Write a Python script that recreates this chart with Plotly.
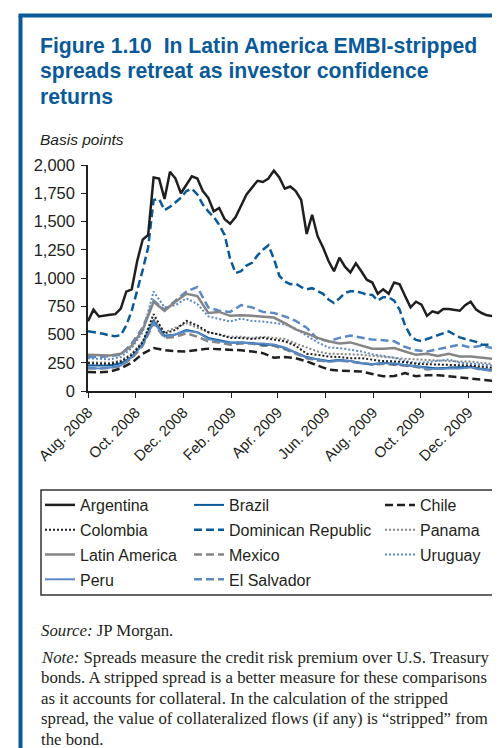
import pandas as pd
import plotly.graph_objects as go


# ==========================================================
# DATA (basis points)
# ==========================================================

dates_weekly = pd.date_range("2008-08-01", periods=76, freq="7D")
dates_biweekly = pd.date_range("2008-08-01", periods=38, freq="14D")

argentina = [
    617, 720, 660, 670, 675, 680, 730, 880, 900, 1150, 1340, 1380, 1890, 1880,
    1700, 1940, 1880, 1750, 1830, 1900, 1880, 1770, 1710, 1590, 1620, 1520,
    1480, 1540, 1640, 1740, 1800, 1860, 1850, 1880, 1950, 1890, 1790, 1810,
    1770, 1690, 1390, 1560, 1370, 1270, 1150, 1060, 1180, 1100, 1050, 1130,
    1060, 985, 960, 860, 900, 860, 960, 945, 840, 740, 790, 765, 665, 705,
    690, 725, 725, 715, 710, 760, 790, 720, 690, 670, 660, 655
]

dominican_republic = [
    528, 520, 515, 505, 490, 484, 495, 580, 710, 880, 1070, 1270, 1690, 1700,
    1600, 1630, 1670, 1710, 1770, 1790, 1740, 1650, 1590, 1540, 1470, 1380,
    1170, 1044, 1060, 1110, 1135, 1200, 1250, 1290, 1170, 1020, 970, 945,
    950, 920, 900, 910, 885, 860, 810, 779, 820, 868, 882, 882, 870, 852,
    850, 800, 830, 830, 800, 720, 580, 490, 452, 442, 460, 478, 495, 515,
    528, 500, 475, 460, 450, 435, 410, 410, 420, 385
]

latin_america = [
    321, 318, 315, 330, 400, 540, 790, 710, 790, 860, 840, 690, 700, 665,
    670, 665, 655, 650, 600, 545, 510, 470, 440, 420, 430, 400, 375, 375,
    380, 350, 320, 330, 310, 330, 305, 305, 295, 285
]

el_salvador = [
    300, 300, 310, 320, 420, 560, 800, 720, 800, 880, 920, 740, 710, 700,
    760, 740, 700, 690, 660, 620, 560, 460, 440, 470, 490, 470, 455, 450,
    440, 390, 360, 350, 370, 385, 410, 385, 400, 380
]

uruguay = [
    290, 285, 280, 300, 380, 520, 880, 740, 760, 820, 770, 660, 640, 615,
    640, 620, 615, 605, 590, 550, 490, 430, 385, 380, 365, 350, 325, 310,
    295, 265, 250, 255, 265, 280, 250, 245, 235, 225
]

panama = [
    255, 250, 250, 270, 330, 440, 640, 520, 560, 600, 560, 520, 500, 480,
    480, 470, 480, 470, 460, 420, 385, 350, 330, 330, 325, 320, 310, 300,
    295, 285, 280, 275, 265, 265, 260, 260, 250, 240
]

colombia = [
    245, 240, 240, 260, 320, 430, 680, 510, 540, 620, 580, 520, 500, 470,
    470, 460, 470, 455, 440, 400, 330, 320, 305, 300, 290, 290, 275, 265,
    262, 255, 240, 238, 235, 232, 232, 225, 215, 205
]

brazil = [
    225, 222, 225, 245, 300, 420, 620, 490, 500, 540, 520, 470, 450, 430,
    430, 425, 410, 410, 380, 340, 300, 280, 265, 275, 265, 245, 235, 250,
    240, 232, 220, 210, 200, 205, 210, 215, 195, 185
]

mexico = [
    200, 198, 205, 220, 290, 400, 600, 470, 480, 510, 480, 440, 430, 410,
    420, 420, 400, 400, 370, 330, 290, 270, 260, 270, 260, 245, 235, 240,
    230, 225, 215, 190, 200, 205, 205, 210, 190, 180
]

peru = [
    205, 200, 205, 225, 300, 410, 610, 480, 500, 530, 520, 460, 440, 425,
    430, 420, 420, 410, 385, 340, 295, 280, 260, 270, 265, 245, 240, 245,
    245, 230, 220, 200, 195, 200, 200, 210, 190, 180
]

chile = [
    168, 165, 172, 200, 250, 330, 380, 362, 352, 350, 362, 375, 370, 366,
    360, 350, 335, 295, 300, 290, 262, 225, 190, 180, 175, 172, 150, 130,
    132, 158, 130, 140, 140, 130, 125, 112, 100, 90
]

tick_dates = [
    "2008-08-01", "2008-10-01", "2008-12-01", "2009-02-01", "2009-04-01",
    "2009-06-01", "2009-08-01", "2009-10-01", "2009-12-01"
]
tick_labels = [
    "Aug. 2008", "Oct. 2008", "Dec. 2008", "Feb. 2009", "Apr. 2009",
    "Jun. 2009", "Aug. 2009", "Oct. 2009", "Dec. 2009"
]

title_lines = [
    "Figure 1.10  In Latin America EMBI-stripped",
    "spreads retreat as investor confidence",
    "returns"
]

note_lines = [
    "<i>Note:</i> Spreads measure the credit risk premium over U.S. Treasury",
    "bonds. A stripped spread is a better measure for these comparisons",
    "as it accounts for collateral. In the calculation of the stripped",
    "spread, the value of collateralized flows (if any) is \u201cstripped\u201d from",
    "the bond."
]


# ==========================================================
# STYLE
# ==========================================================

BLACK = "#1f1f1f"
DARK_BLUE = "#0a5a9a"
LIGHT_BLUE = "#5a8ac6"
GRAY = "#858585"
TEXT = "#231f20"
DASH = "8px,4px"
DOT = "2px,2px"

# margins put the plot area at x 80..490, y 157..383 (px)
L, R, T, B = 80, 10, 157, 365
W, H = 500, 748


def px(x):
    return (x - L) / (W - L - R)


def py(y):
    return (H - B - y) / (H - T - B)


series = [
    # name, x, y, color, dash, width, legend
    ("Argentina", dates_weekly, argentina, BLACK, "solid", 2.5, "legend"),
    ("Colombia", dates_biweekly, colombia, BLACK, DOT, 2, "legend"),
    ("Latin America", dates_biweekly, latin_america, GRAY, "solid", 2.5, "legend"),
    ("Peru", dates_biweekly, peru, LIGHT_BLUE, "solid", 2, "legend"),
    ("Brazil", dates_biweekly, brazil, DARK_BLUE, "solid", 2, "legend2"),
    ("Dominican Republic", dates_weekly, dominican_republic, DARK_BLUE, DASH, 2.5, "legend2"),
    ("Mexico", dates_biweekly, mexico, GRAY, DASH, 2.5, "legend2"),
    ("El Salvador", dates_biweekly, el_salvador, LIGHT_BLUE, DASH, 2.5, "legend2"),
    ("Chile", dates_biweekly, chile, BLACK, DASH, 2.5, "legend3"),
    ("Panama", dates_biweekly, panama, GRAY, DOT, 2, "legend3"),
    ("Uruguay", dates_biweekly, uruguay, LIGHT_BLUE, DOT, 2, "legend3"),
]

fig = go.Figure()

# draw in reverse so Argentina ends on top
for name, x, y, color, dash, width, legend in reversed(series):
    fig.add_trace(
        go.Scatter(
            x=x,
            y=y,
            mode="lines",
            name=name,
            legend=legend,
            legendgroup=name,
            legendrank=[s[0] for s in series].index(name),
            line=dict(color=color, dash=dash, width=width)
        )
    )

legend_common = dict(
    xanchor="left",
    yanchor="top",
    orientation="v",
    traceorder="grouped",
    tracegroupgap=1,
    bgcolor="rgba(0,0,0,0)",
    font=dict(family="Liberation Sans, Arial", size=16, color=TEXT)
)

fig.update_layout(
    width=W,
    height=H,
    margin=dict(l=L, r=R, t=T, b=B, autoexpand=False),
    paper_bgcolor="white",
    plot_bgcolor="white",
    font=dict(family="Liberation Sans, Arial", color=TEXT),
    legend=dict(x=px(32), y=py(480), **legend_common),
    legend2=dict(x=px(181), y=py(480), **legend_common),
    legend3=dict(x=px(372), y=py(480), **legend_common),
)

fig.update_xaxes(
    type="date",
    range=["2008-08-01", "2010-01-08"],
    tickvals=tick_dates,
    ticktext=tick_labels,
    tickangle=-45,
    tickfont=dict(size=15),
    showgrid=False,
    zeroline=False,
    showline=True,
    linecolor=TEXT,
    linewidth=1.5,
    ticks="outside",
    ticklen=5,
    tickcolor=TEXT
)

fig.update_yaxes(
    range=[0, 2000],
    tickvals=[0, 250, 500, 750, 1000, 1250, 1500, 1750, 2000],
    tickformat=",",
    tickfont=dict(size=16.5),
    ticklabelstandoff=3,
    showgrid=False,
    zeroline=False,
    showline=True,
    linecolor=TEXT,
    linewidth=1.5,
    ticks="outside",
    ticklen=5,
    tickcolor=TEXT
)

# blue frame (left and top edges)
fig.add_shape(type="line", xref="paper", yref="paper",
              x0=px(12.5), x1=px(12.5), y0=py(7.5), y1=py(748),
              line=dict(color=DARK_BLUE, width=4))
fig.add_shape(type="line", xref="paper", yref="paper",
              x0=px(10.5), x1=px(500), y0=py(7.5), y1=py(7.5),
              line=dict(color=DARK_BLUE, width=4))

# legend box
fig.add_shape(type="rect", xref="paper", yref="paper",
              x0=px(33), x1=px(491), y0=py(482), y1=py(587),
              line=dict(color="#333333", width=1.5))

# title, one annotation per line
for i, line in enumerate(title_lines):
    fig.add_annotation(
        xref="paper", yref="paper", x=px(30), y=py(38 + 25 * i),
        xanchor="left", yanchor="middle", showarrow=False,
        text="<b>" + line + "</b>",
        font=dict(family="Liberation Sans, Arial", size=21.2, color=DARK_BLUE)
    )

fig.add_annotation(
    xref="paper", yref="paper", x=px(30), y=py(131),
    xanchor="left", yanchor="middle", showarrow=False,
    text="<i>Basis points</i>",
    font=dict(family="Liberation Sans, Arial", size=15.5, color=TEXT)
)

fig.add_annotation(
    xref="paper", yref="paper", x=px(31), y=py(622),
    xanchor="left", yanchor="middle", showarrow=False,
    text="<i>Source:</i> JP Morgan.",
    font=dict(family="Liberation Serif, Times New Roman", size=16.8, color=TEXT)
)

for i, line in enumerate(note_lines):
    fig.add_annotation(
        xref="paper", yref="paper", x=px(31), y=py(649 + 20.5 * i),
        xanchor="left", yanchor="middle", showarrow=False,
        text=line,
        font=dict(family="Liberation Serif, Times New Roman", size=16.8, color=TEXT)
    )

fig.write_html("out.html")
